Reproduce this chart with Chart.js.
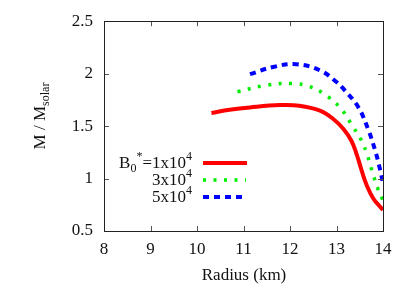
<!DOCTYPE html>
<html>
<head>
<meta charset="utf-8">
<script src="https://cdn.jsdelivr.net/npm/chart.js@4"></script>
<style>
  html, body { margin: 0; padding: 0; background: #fff; }
  #wrap { width: 409px; height: 286px; }
</style>
</head>
<body>
<div id="wrap"><canvas id="c" width="409" height="286"></canvas></div>
<script>
// data
const xTicks = [8, 9, 10, 11, 12, 13, 14];
const yTicks = [0.5, 1, 1.5, 2, 2.5];

const redR = [10.31, 10.7, 11.14, 11.78, 12.2, 12.645, 12.93, 13.15, 13.32, 13.43, 13.54, 13.65, 13.79, 13.97, 14.0];
const redM = [1.625, 1.655, 1.678, 1.70, 1.694, 1.647, 1.568, 1.473, 1.36, 1.236, 1.078, 0.936, 0.81, 0.715, 0.70];

const greenR = [10.87, 11.5, 12.07, 12.4, 12.72, 13.07, 13.36, 13.54, 13.65, 13.76, 13.9, 14.0];
const greenM = [1.827, 1.89, 1.906, 1.88, 1.81, 1.68, 1.49, 1.36, 1.24, 1.08, 0.89, 0.79];

const blueR = [11.14, 11.64, 12.14, 12.65, 13.0, 13.18, 13.47, 13.68, 13.83, 13.94, 14.0];
const blueM = [1.995, 2.064, 2.09, 2.03, 1.92, 1.84, 1.68, 1.47, 1.27, 1.08, 0.95];

const SERIF = '"Liberation Serif", "DejaVu Serif", serif';

function pts(xs, ys) {
    return xs.map((x, i) => ({ x: x, y: ys[i] }));
}

// inward ticks on all four sides, gnuplot style
const frameTicks = {
    id: 'frameTicks',
    afterDraw(chart) {
        const ctx = chart.ctx;
        const a = chart.chartArea;
        const sx = chart.scales.x, sy = chart.scales.y;
        const len = 5;
        ctx.save();
        ctx.strokeStyle = '#555';
        ctx.lineWidth = 1;
        ctx.beginPath();
        xTicks.forEach(v => {
            const px = Math.round(sx.getPixelForValue(v)) + 0.5;
            ctx.moveTo(px, a.bottom); ctx.lineTo(px, a.bottom - len);
            ctx.moveTo(px, a.top); ctx.lineTo(px, a.top + len);
        });
        yTicks.forEach(v => {
            const py = Math.round(sy.getPixelForValue(v)) + 0.5;
            ctx.moveTo(a.left, py); ctx.lineTo(a.left + len, py);
            ctx.moveTo(a.right, py); ctx.lineTo(a.right - len, py);
        });
        ctx.stroke();
        ctx.strokeStyle = '#222';
        ctx.strokeRect(Math.round(a.left) + 0.5, Math.round(a.top) + 0.5,
            Math.round(a.right - a.left), Math.round(a.bottom - a.top));
        ctx.restore();
    }
};

// draws text pieces with sub/superscripts, returns width
function richText(ctx, parts, x, y, measureOnly) {
    let w = 0;
    parts.forEach(p => {
        const size = p.s ? 12 : 17;
        ctx.font = size + 'px ' + SERIF;
        const dy = p.s === 'sup' ? -8 : (p.s === 'sub' ? 4 : 0);
        if (!measureOnly) ctx.fillText(p.t, x + w, y + dy);
        w += ctx.measureText(p.t).width;
    });
    return w;
}

// legend and axis titles (with sub/superscripts)
const labels = {
    id: 'labels',
    afterDraw(chart) {
        const ctx = chart.ctx;
        ctx.save();
        ctx.fillStyle = '#111';
        ctx.textBaseline = 'alphabetic';
        ctx.textAlign = 'left';

        const rows = [
            { parts: [{ t: 'B' }, { t: '0', s: 'sub' }, { t: '*', s: 'sup' }, { t: '=1x10' }, { t: '4', s: 'sup' }],
              color: '#ff0000', dash: [], width: 4, end: 247 },
            { parts: [{ t: '3x10' }, { t: '4', s: 'sup' }],
              color: '#00ee00', dash: [3, 7.5], width: 3.5, end: 246 },
            { parts: [{ t: '5x10' }, { t: '4', s: 'sup' }],
              color: '#0000ff', dash: [6, 5], width: 4, end: 243 }
        ];
        const textRight = 192;
        const rowY = [163, 180, 197];
        rows.forEach((r, i) => {
            const w = richText(ctx, r.parts, 0, 0, true);
            richText(ctx, r.parts, textRight - w, rowY[i] + 5, false);
            ctx.save();
            ctx.strokeStyle = r.color;
            ctx.lineWidth = r.width;
            ctx.lineCap = 'butt';
            ctx.setLineDash(r.dash);
            ctx.beginPath();
            ctx.moveTo(203, rowY[i]);
            ctx.lineTo(r.end, rowY[i]);
            ctx.stroke();
            ctx.restore();
        });

        // y title
        const yParts = [{ t: 'M / M' }, { t: 'solar', s: 'sub' }];
        ctx.save();
        ctx.translate(45, 116);
        ctx.rotate(-Math.PI / 2);
        const yw = richText(ctx, yParts, 0, 0, true);
        richText(ctx, yParts, -yw / 2, 0, false);
        ctx.restore();

        // x title
        ctx.font = '17px ' + SERIF;
        ctx.textAlign = 'center';
        ctx.fillText('Radius (km)', 244, 280);
        ctx.restore();
    }
};

const common = {
    fill: false,
    pointRadius: 0,
    tension: 0.4,
    borderCapStyle: 'butt'
};

new Chart(document.getElementById('c'), {
    type: 'line',
    data: {
        datasets: [
            Object.assign({ label: 'B0*=1x10^4', data: pts(redR, redM),
                borderColor: '#ff0000', borderWidth: 4 }, common),
            Object.assign({ label: '3x10^4', data: pts(greenR, greenM),
                borderColor: '#00ee00', borderWidth: 3.5, borderDash: [3, 7.5] }, common),
            Object.assign({ label: '5x10^4', data: pts(blueR, blueM),
                borderColor: '#0000ff', borderWidth: 4, borderDash: [6, 5] }, common)
        ]
    },
    options: {
        responsive: false,
        animation: false,
        devicePixelRatio: 1,
        layout: { padding: { left: 0, right: 26, top: 20, bottom: 0 } },
        plugins: {
            legend: { display: false },
            tooltip: { enabled: false }
        },
        scales: {
            x: {
                type: 'linear',
                min: 8, max: 14,
                afterBuildTicks: s => { s.ticks = xTicks.map(v => ({ value: v })); },
                afterFit: s => { s.height = 55; },
                grid: { display: false, drawTicks: false },
                border: { display: false },
                ticks: { color: '#111', padding: 8, maxRotation: 0,
                    callback: v => String(v),
                    font: { family: SERIF, size: 17 } }
            },
            y: {
                type: 'linear',
                min: 0.5, max: 2.5,
                afterBuildTicks: s => { s.ticks = yTicks.map(v => ({ value: v })); },
                afterFit: s => { s.width = 104; },
                grid: { display: false, drawTicks: false },
                border: { display: false },
                ticks: { color: '#111', padding: 11,
                    callback: v => String(v),
                    font: { family: SERIF, size: 17 } }
            }
        }
    },
    plugins: [frameTicks, labels]
});
</script>
</body>
</html>
